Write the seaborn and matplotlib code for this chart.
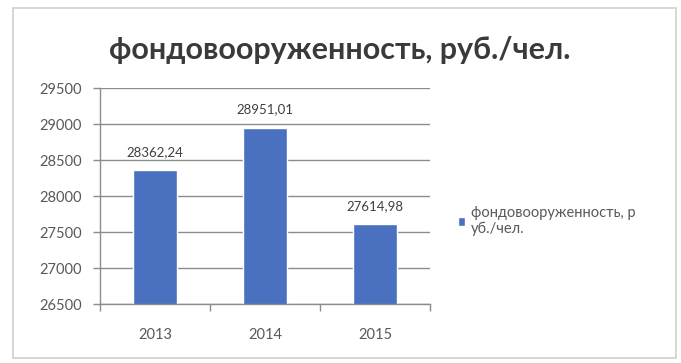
import matplotlib
matplotlib.use("Agg")
import matplotlib.pyplot as plt
from matplotlib.patches import Rectangle
from matplotlib.ticker import FixedLocator
import seaborn as sns
import pandas as pd

years = ["2013", "2014", "2015"]
values = [28362.24, 28951.01, 27614.98]
value_labels = ["28362,24", "28951,01", "27614,98"]
y_ticks = [26500, 27000, 27500, 28000, 28500, 29000, 29500]
title = "фондовооруженность, руб./чел."
series_name = "фондовооруженность, р\nуб./чел."

sns.set_theme(style="white")
plt.rcParams["font.family"] = ["Lato", "DejaVu Sans"]

df = pd.DataFrame({"year": years, "value": values})

fig = plt.figure(figsize=(6.81, 3.63), dpi=100)
ax = fig.add_axes([100 / 681, 1 - 304 / 363, 330 / 681, 216 / 363])

bar_color = "#4a70c0"
sns.barplot(data=df, x="year", y="value", color=bar_color, width=0.4,
            ax=ax, label=series_name, saturation=1)

ax.set_ylim(26500, 29500)
ax.set_xlim(-0.5, 2.5)
ax.set_yticks(y_ticks)
ax.set_yticklabels([str(t) for t in y_ticks])
ax.yaxis.grid(True, color="#8c8c8c", linewidth=1.0)
ax.set_axisbelow(True)
ax.set_xlabel("")
ax.set_ylabel("")

for side in ["top", "right"]:
    ax.spines[side].set_visible(False)
for side in ["left", "bottom"]:
    ax.spines[side].set_color("#8c8c8c")
    ax.spines[side].set_linewidth(1.0)

ax.tick_params(axis="y", which="major", left=True, length=5, width=1,
               color="#8c8c8c", labelsize=10.5, labelcolor="#595959", pad=8)
ax.tick_params(axis="x", which="major", bottom=False, length=0,
               labelsize=10.5, labelcolor="#595959", pad=17)
ax.xaxis.set_minor_locator(FixedLocator([-0.5, 0.5, 1.5, 2.5]))
ax.tick_params(axis="x", which="minor", bottom=True, length=5, width=1,
               color="#8c8c8c")

for i, (v, lab) in enumerate(zip(values, value_labels)):
    ax.annotate(lab, xy=(i, v), xytext=(0, 13), textcoords="offset points",
                ha="center", va="center", fontsize=9.5, color="#404040")

fig.text(340 / 681, 1 - 50 / 363, title, ha="center", va="center",
         fontsize=22, fontweight="bold", color="#3a3a3a")

leg = ax.legend(loc="upper left", bbox_to_anchor=(452 / 681, 1 - 200 / 363),
                bbox_transform=fig.transFigure, frameon=False, fontsize=10.5,
                handlelength=0.5, handleheight=0.5, handletextpad=0.4,
                labelcolor="#595959", borderaxespad=0)

fig.patches.append(Rectangle((13 / 681, 1 - 358 / 363), 663 / 681, 350 / 363,
                             transform=fig.transFigure, fill=False,
                             edgecolor="#cfcfcf", linewidth=1.2))

fig.savefig("out.png", dpi=100)
